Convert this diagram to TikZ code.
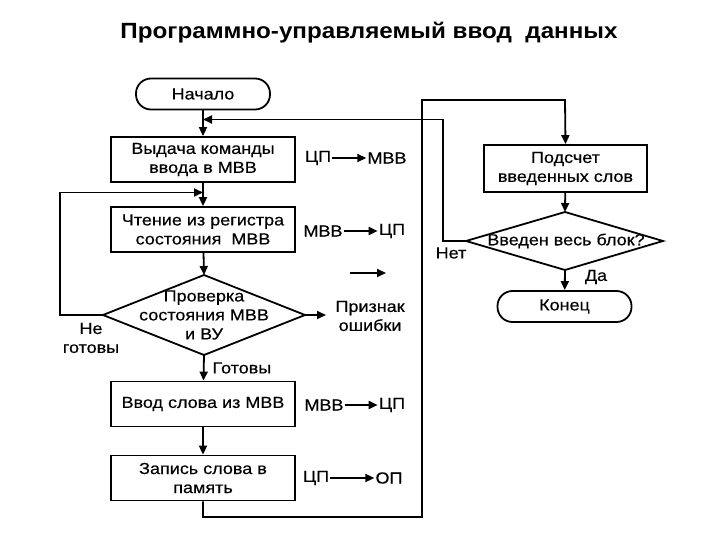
\documentclass[tikz,border=0pt]{standalone}
\usepackage{fontspec}
\setmainfont{Liberation Sans}
\newfontfamily\bodyf[FakeStretch=1.125,FakeBold=0.4]{Liberation Sans}
\newfontfamily\titlef[FakeStretch=1.1]{Liberation Sans}
\usetikzlibrary{arrows.meta}
\begin{document}
\begin{tikzpicture}[x=1pt,y=-1pt,
  every node/.style={font=\bodyf\fontsize{16}{19}\selectfont},
  line/.style={line width=1.8pt},
  arr/.style={line width=1.8pt,-{Triangle[length=9pt,width=8pt]}},
  proc/.style={draw,line width=1.8pt,rectangle,minimum width=184pt,minimum height=45pt,align=center,inner sep=0pt},
  term/.style={draw,line width=1.8pt,rectangle,rounded corners=15pt,minimum width=134pt,minimum height=31pt,inner sep=0pt},
  dec/.style={draw,line width=1.8pt},
  tl/.style={inner sep=1pt}]
\useasboundingbox (0,0) rectangle (720,540);
\node[font=\titlef\fontsize{22}{25}\selectfont\bfseries] (title) at (369,33) {Программно-управляемый ввод\ \ данных};
\node[term] (start) at (203,94) {Начало};
\node[proc] (b1) at (203,159.5) {Выдача команды\\ввода в МВВ};
\node[proc] (b2) at (203,229.5) {Чтение из регистра\\состояния\ \ МВВ};
% diamond 1
\coordinate (d1) at (204,315);
\coordinate (d1n) at (204,275);
\coordinate (d1s) at (204,355);
\coordinate (d1w) at (103,315);
\coordinate (d1e) at (305,315);
\draw[dec] (d1n) -- (d1e) -- (d1s) -- (d1w) -- cycle;
\node[align=center] (d1t) at (d1) {Проверка\\состояния МВВ\\и ВУ};
\node[proc] (b3) at (203,404) {Ввод слова из МВВ};
\node[proc] (b4) at (203,478) {Запись слова в\\память};
\node[proc,minimum width=163pt,minimum height=47pt] (b5) at (565.5,168.5) {Подсчет\\введенных слов};
% diamond 2
\coordinate (d2) at (565,241);
\coordinate (d2n) at (565,212);
\coordinate (d2s) at (565,270);
\coordinate (d2w) at (466,241);
\coordinate (d2e) at (663,241);
\draw[dec] (d2n) -- (d2e) -- (d2s) -- (d2w) -- cycle;
\node (d2t) at (566,241) {Введен весь блок?};
\node[term] (end) at (564.5,306.5) {Конец};
% flow
\draw[arr] (start) -- (b1);
\draw[arr] (b1) -- (b2);
\draw[arr] (b2) -- (d1n);
\draw[arr] (d1s) -- (b3);
\draw[arr] (b3) -- (b4);
\draw[arr] (b5) -- (d2n);
\draw[arr] (d2s) -- (end);
% error
\coordinate (err) at (326,315);
\draw[arr] (d1e) -- (err);
\node[align=center,anchor=west] (errt) at (332,316) {Признак\\ошибки};
% not ready loop
\coordinate (nr1) at (60,315);
\coordinate (nr2) at (60,192.5);
\coordinate (nr3) at (203,192.5);
\draw[line] (d1w) -- (nr1) -- (nr2);
\draw[arr] (nr2) -- (nr3);
\node[align=center] (nrt) at (91,338) {Не\\готовы};
\node[anchor=west] (gt) at (209,368) {Готовы};
% loop from b4
\coordinate (l1) at (203,517);
\coordinate (l2) at (422,517);
\coordinate (l3) at (422,100);
\coordinate (l4) at (565,100);
\draw[arr] (b4.south) -- (l1) -- (l2) -- (l3) -- (l4) -- (b5.north);
% Нет loop
\coordinate (n1) at (443,241);
\coordinate (n2) at (443,119.5);
\coordinate (n3) at (203,119.5);
\draw[line] (d2w) -- (n1) -- (n2);
\draw[arr] (n2) -- (n3);
\node (nett) at (451,253) {Нет};
\node (dat) at (596,277) {Да};
% stray arrow
\coordinate (s1) at (350,273);
\coordinate (s2) at (386,273);
\draw[arr] (s1) -- (s2);
% transfer labels
\node[tl] (r1a) at (318,158) {ЦП};
\node[tl] (r1b) at (387,158) {МВВ};
\draw[arr] (r1a) -- (r1b);
\node[tl] (r2a) at (323,231) {МВВ};
\node[tl] (r2b) at (392,231) {ЦП};
\draw[arr] (r2a) -- (r2b);
\node[tl] (r3a) at (324,405) {МВВ};
\node[tl] (r3b) at (392,405) {ЦП};
\draw[arr] (r3a) -- (r3b);
\node[tl] (r4a) at (316,478) {ЦП};
\node[tl] (r4b) at (389,478) {ОП};
\draw[arr] (r4a) -- (r4b);
\end{tikzpicture}
\end{document}
